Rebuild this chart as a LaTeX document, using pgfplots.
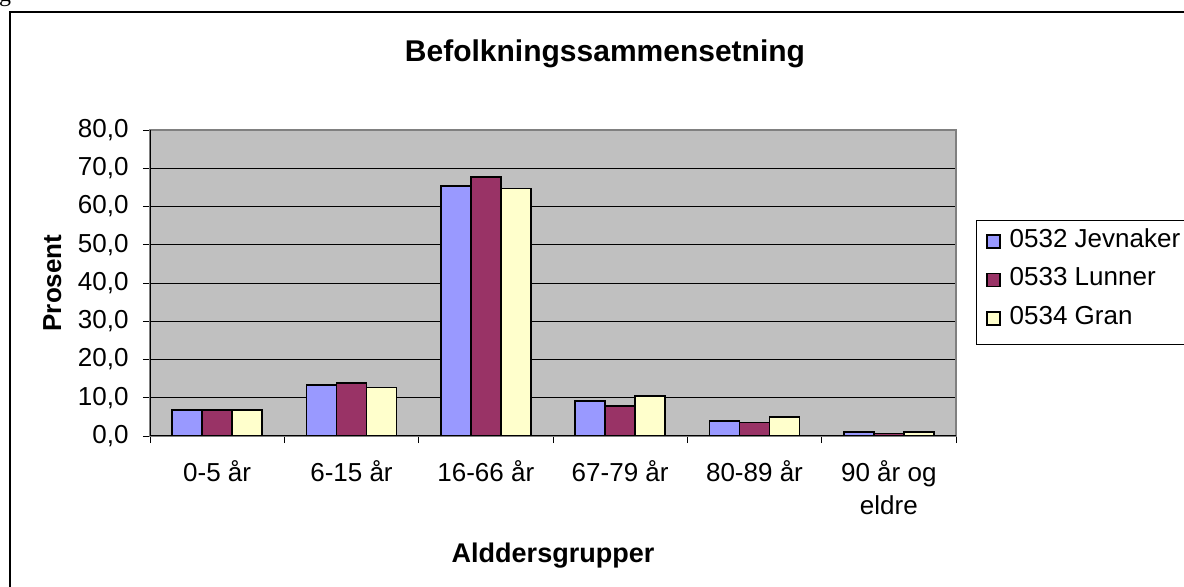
\documentclass[border=0pt]{standalone}
\usepackage{pgfplots}
\pgfplotsset{compat=1.18}
\usepackage{fontspec}
\setmainfont{Liberation Sans}
\newfontfamily\seriffont{Liberation Serif}
\definecolor{cJ}{HTML}{9999FF}
\definecolor{cL}{HTML}{993366}
\definecolor{cG}{HTML}{FFFFCC}
\definecolor{plotbg}{HTML}{C0C0C0}
\definecolor{framegray}{HTML}{808080}
\newcommand\fs{\fontsize{26bp}{33bp}\selectfont}
\pgfplotsset{
  mybar/.style={fill=#1, draw=black, line width=1.6bp,
    legend image code/.code={\draw[fill=#1, draw=black, line width=1.3bp] (0bp,-4bp) rectangle (13bp,9bp);}},
}
\begin{document}
\begin{tikzpicture}
\clip (0,0) rectangle (1184bp,587bp);
\begin{axis}[
  at={(150bp,151bp)}, anchor=south west,
  scale only axis, width=806bp, height=306bp,
  xmin=0, xmax=6, ymin=0, ymax=80,
  ybar=0pt, bar width=30bp,
  axis background/.style={fill=plotbg},
  axis line style={draw=framegray, line width=1.3bp},
  tick align=outside, tick pos=left,
  xtick={0.5,1.5,2.5,3.5,4.5,5.5},
  xticklabels={0-5 år,6-15 år,16-66 år,67-79 år,80-89 år,{90 år og\\eldre}},
  major x tick style={draw=none},
  minor xtick={0,1,2,3,4,5,6},
  minor x tick style={black, line width=0.8bp},
  major tick length=7bp, minor tick length=7bp,
  ytick={0,10,...,80},
  ymajorgrids, grid style={black, line width=0.8bp},
  y tick style={black, line width=0.8bp},
  tick label style={font=\fs},
  xticklabel style={align=center, text depth=0pt, yshift=-14bp},
  yticklabel style={xshift=-11bp, /pgf/number format/.cd, fixed, fixed zerofill, precision=1, use comma, assume math mode=true},
  legend style={at={(axis description cs:1.02481,0.70588)}, anchor=north west,
    draw=black, line width=0.8bp, fill=white, font=\fs,
    inner xsep=10bp, inner ysep=8bp, row sep=7.5bp,
    nodes={inner sep=0pt, text height=19bp, text depth=12bp},
    /tikz/every odd column/.append style={column sep=9bp}},
  legend cell align=left,
]
\addplot[mybar=cJ] coordinates {(0.5,6.8) (1.5,13.3) (2.5,65.3) (3.5,9.2) (4.5,3.9) (5.5,1.1)};
\addlegendentry{0532 Jevnaker}
\addplot[mybar=cL] coordinates {(0.5,6.8) (1.5,13.8) (2.5,67.7) (3.5,7.9) (4.5,3.5) (5.5,0.7)};
\addlegendentry{0533 Lunner}
\addplot[mybar=cG] coordinates {(0.5,6.8) (1.5,12.7) (2.5,64.7) (3.5,10.5) (4.5,5.0) (5.5,1.1)};
\addlegendentry{0534 Gran}
\draw[black, line width=1.3bp] (rel axis cs:0,1) -- (rel axis cs:0,0) -- (rel axis cs:1,0);
\end{axis}
\draw[black, line width=2.3bp] (10bp,-5bp) -- (10bp,575bp) -- (1190bp,575bp);
\node[font={\seriffont\fontsize{24bp}{24bp}\selectfont}, anchor=base west, inner sep=0pt] at (-1bp,585bp) {g};
\node[font={\bfseries\fontsize{30bp}{36bp}\selectfont}, anchor=base] at (605bp,525bp) {Befolkningssammensetning};
\node[font={\bfseries\fontsize{27bp}{33bp}\selectfont}, anchor=base] at (553bp,25bp) {Alddersgrupper};
\node[font={\bfseries\fontsize{26bp}{33bp}\selectfont}, anchor=base, rotate=90] at (61bp,304bp) {Prosent};
\end{tikzpicture}
\end{document}
